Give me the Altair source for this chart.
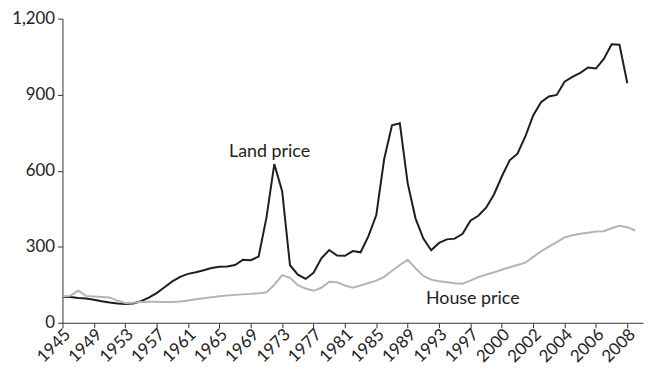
import altair as alt
import pandas as pd

# Index values (base period = 100), one entry per plotted period
land_price = [103, 102, 98, 96, 91, 85, 80, 76, 74, 76, 85, 99, 117, 140, 163, 181,
              193, 199, 207, 216, 221, 222, 228, 249, 247, 261, 415, 626, 519, 227,
              190, 173, 197, 254, 287, 265, 264, 283, 278, 342, 425, 645, 779, 787,
              551, 412, 332, 286, 315, 329, 332, 351, 403, 422, 454, 506, 577, 641,
              667, 735, 818, 870, 893, 899, 951, 970, 986, 1007, 1003, 1041, 1099,
              1097, 945]
house_price = [104, 106, 127, 106, 104, 102, 100, 87, 78, 79, 82, 83, 83, 82, 82, 84,
               88, 93, 97, 101, 105, 108, 110, 112, 114, 116, 120, 150, 188, 177,
               148, 135, 126, 138, 162, 160, 147, 138, 147, 157, 166, 181, 205, 228,
               248, 215, 185, 170, 164, 160, 156, 154, 166, 180, 190, 199, 209, 219,
               228, 237, 260, 282, 300, 318, 337, 345, 351, 355, 360, 361, 373, 383,
               377, 364]
tick_labels = ["1945", "1949", "1953", "1957", "1961", "1965", "1969", "1973", "1977",
               "1981", "1985", "1989", "1993", "1997", "2000", "2002", "2004", "2006",
               "2008"]
y_ticks = [0, 300, 600, 900, 1200]

n = len(house_price)
land_full = land_price + [None] * (n - len(land_price))
df = pd.DataFrame({"idx": list(range(n)), "Land price": land_full, "House price": house_price})
long = df.melt("idx", var_name="series", value_name="value").dropna()

tick_pos = [i * 4 for i in range(len(tick_labels))]
label_expr = "[" + ",".join(f"'{t}'" for t in tick_labels) + "][round(datum.value/4)]"

FONT = "Lato"

x_enc = alt.X(
    "idx:Q",
    scale=alt.Scale(domain=[0, 74], nice=False, zero=False),
    axis=alt.Axis(values=tick_pos, tickCount=100, labelExpr=label_expr, labelAngle=-45,
                  labelAlign="right", labelBaseline="middle", title=None, grid=False,
                  labelOverlap=False, labelBound=False, labelFlush=False,
                  tickSize=5, labelFontSize=17, labelPadding=4, labelOffset=5,
                  labelFont=FONT,
                  domainColor="#333333", tickColor="#333333", labelColor="#222222"),
)
y_enc = alt.Y(
    "value:Q",
    scale=alt.Scale(domain=[0, 1200], nice=False),
    axis=alt.Axis(values=y_ticks, tickCount=20, format=",d", title=None, grid=False,
                  tickSize=5, labelFontSize=17, labelPadding=3, labelFont=FONT,
                  labelOverlap=False, labelFlush=False,
                  domainColor="#333333", tickColor="#333333", labelColor="#222222"),
)

lines = alt.Chart(long).mark_line(strokeWidth=2).encode(
    x=x_enc,
    y=y_enc,
    color=alt.Color("series:N",
                    scale=alt.Scale(domain=["Land price", "House price"],
                                    range=["#1e1e1e", "#b4b4b4"]),
                    legend=None),
    detail="series:N",
)

land_label = alt.Chart().mark_text(fontSize=18, font=FONT, color="#222222").encode(
    x=alt.datum(26.4), y=alt.datum(674), text=alt.value("Land price"))
house_label = alt.Chart().mark_text(fontSize=18, font=FONT, color="#222222").encode(
    x=alt.datum(52.3), y=alt.datum(93), text=alt.value("House price"))

chart = alt.layer(lines, land_label, house_label).properties(
    width=586, height=307,
    autosize=alt.AutoSizeParams(type="none"),
    padding={"left": 55, "top": 9, "right": 2, "bottom": 50},
).configure_view(stroke=None)

chart.save("out.html", embed_options={"renderer": "svg", "actions": False})
